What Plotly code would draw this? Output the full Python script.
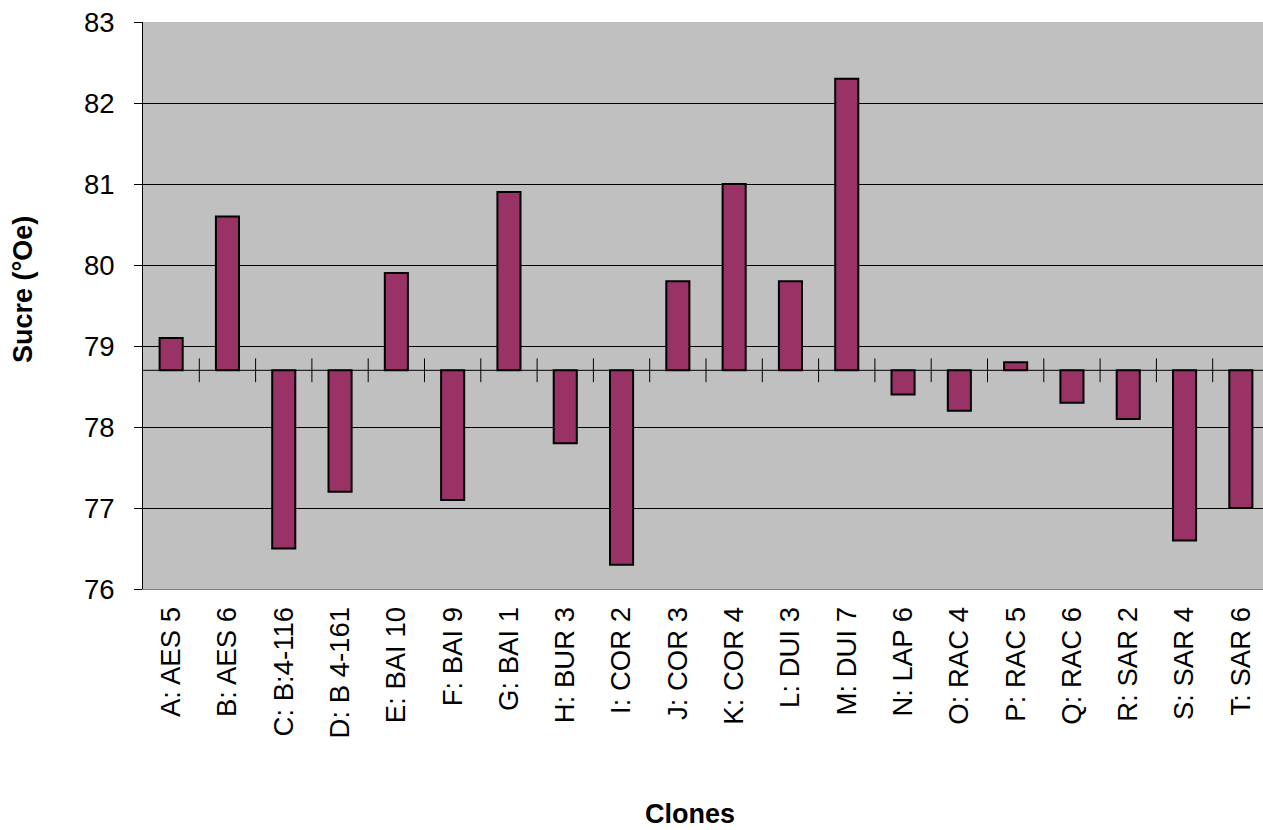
import plotly.graph_objects as go

# Sugar content (°Oe) per clone; bars hang from the 78.7 crossing value
clones = ["A: AES 5", "B: AES 6", "C: B:4-116", "D: B 4-161", "E: BAI 10", "F: BAI 9",
          "G: BAI 1", "H: BUR 3", "I: COR 2", "J: COR 3", "K: COR 4", "L: DUI 3",
          "M: DUI 7", "N: LAP 6", "O: RAC 4", "P: RAC 5", "Q: RAC 6", "R: SAR 2",
          "S: SAR 4", "T: SAR 6"]
sucre = [79.1, 80.6, 76.5, 77.2, 79.9, 77.1, 80.9, 77.8, 76.3, 79.8,
         81.0, 79.8, 82.3, 78.4, 78.2, 78.8, 78.3, 78.1, 76.6, 77.0]
base_value = 78.7
y_ticks = [76, 77, 78, 79, 80, 81, 82, 83]

FONT = "Liberation Sans, Arial, sans-serif"

positions = list(range(len(clones)))

fig = go.Figure()
fig.add_trace(go.Bar(
    x=positions,
    y=[v - base_value for v in sucre],
    base=base_value,
    width=0.41,
    marker=dict(color="#993366", line=dict(color="black", width=2)),
    hoverinfo="skip",
))

# category axis crossing line with tick marks between categories
boundaries = [i + 0.5 for i in positions[:-1]]
fig.add_trace(go.Scatter(
    x=[-0.5, len(clones) - 0.5], y=[base_value, base_value],
    mode="lines", line=dict(color="black", width=1), hoverinfo="skip", cliponaxis=False,
))
fig.add_trace(go.Scatter(
    x=boundaries, y=[base_value] * len(boundaries),
    mode="markers",
    marker=dict(symbol="line-ns", size=17, line=dict(color="black", width=1)),
    hoverinfo="skip",
))

fig.update_layout(
    width=1263, height=830,
    margin=dict(l=143, r=0, t=22, b=241),
    paper_bgcolor="white",
    plot_bgcolor="#C0C0C0",
    showlegend=False,
    font=dict(family=FONT, size=28, color="black"),
    xaxis=dict(
        range=[-0.5, -0.5 + 1120 / 56.3],
        tickmode="array", tickvals=positions, ticktext=clones,
        tickangle=-90, ticks="", showgrid=False, zeroline=False,
        showline=True, linecolor="#808080", linewidth=1,
        tickfont=dict(family=FONT, size=27.5, color="black"),
        ticklabelstandoff=6,
    ),
    yaxis=dict(
        range=[76, 83], tickmode="array", tickvals=y_ticks,
        ticks="outside", ticklen=8, tickcolor="black", tickwidth=1,
        showgrid=True, gridcolor="black", gridwidth=1,
        showline=True, linecolor="black", linewidth=1,
        zeroline=False,
        tickfont=dict(family=FONT, size=27.5, color="black"),
        ticklabelstandoff=14,
    ),
    annotations=[
        dict(text="<b>Sucre (°Oe)</b>", xref="paper", yref="paper",
             x=-143 / 1120 + 23 / 1120, y=1 - (290 - 22) / 567, textangle=-90,
             showarrow=False, xanchor="center", yanchor="middle",
             font=dict(family=FONT, size=27, color="black")),
        dict(text="<b>Clones</b>", xref="paper", yref="paper",
             x=(690 - 143) / 1120, y=-(830 - 589) / 567,
             showarrow=False, xanchor="center", yanchor="bottom", borderpad=0,
             font=dict(family=FONT, size=27, color="black")),
    ],
)

fig.write_html("out.html")
